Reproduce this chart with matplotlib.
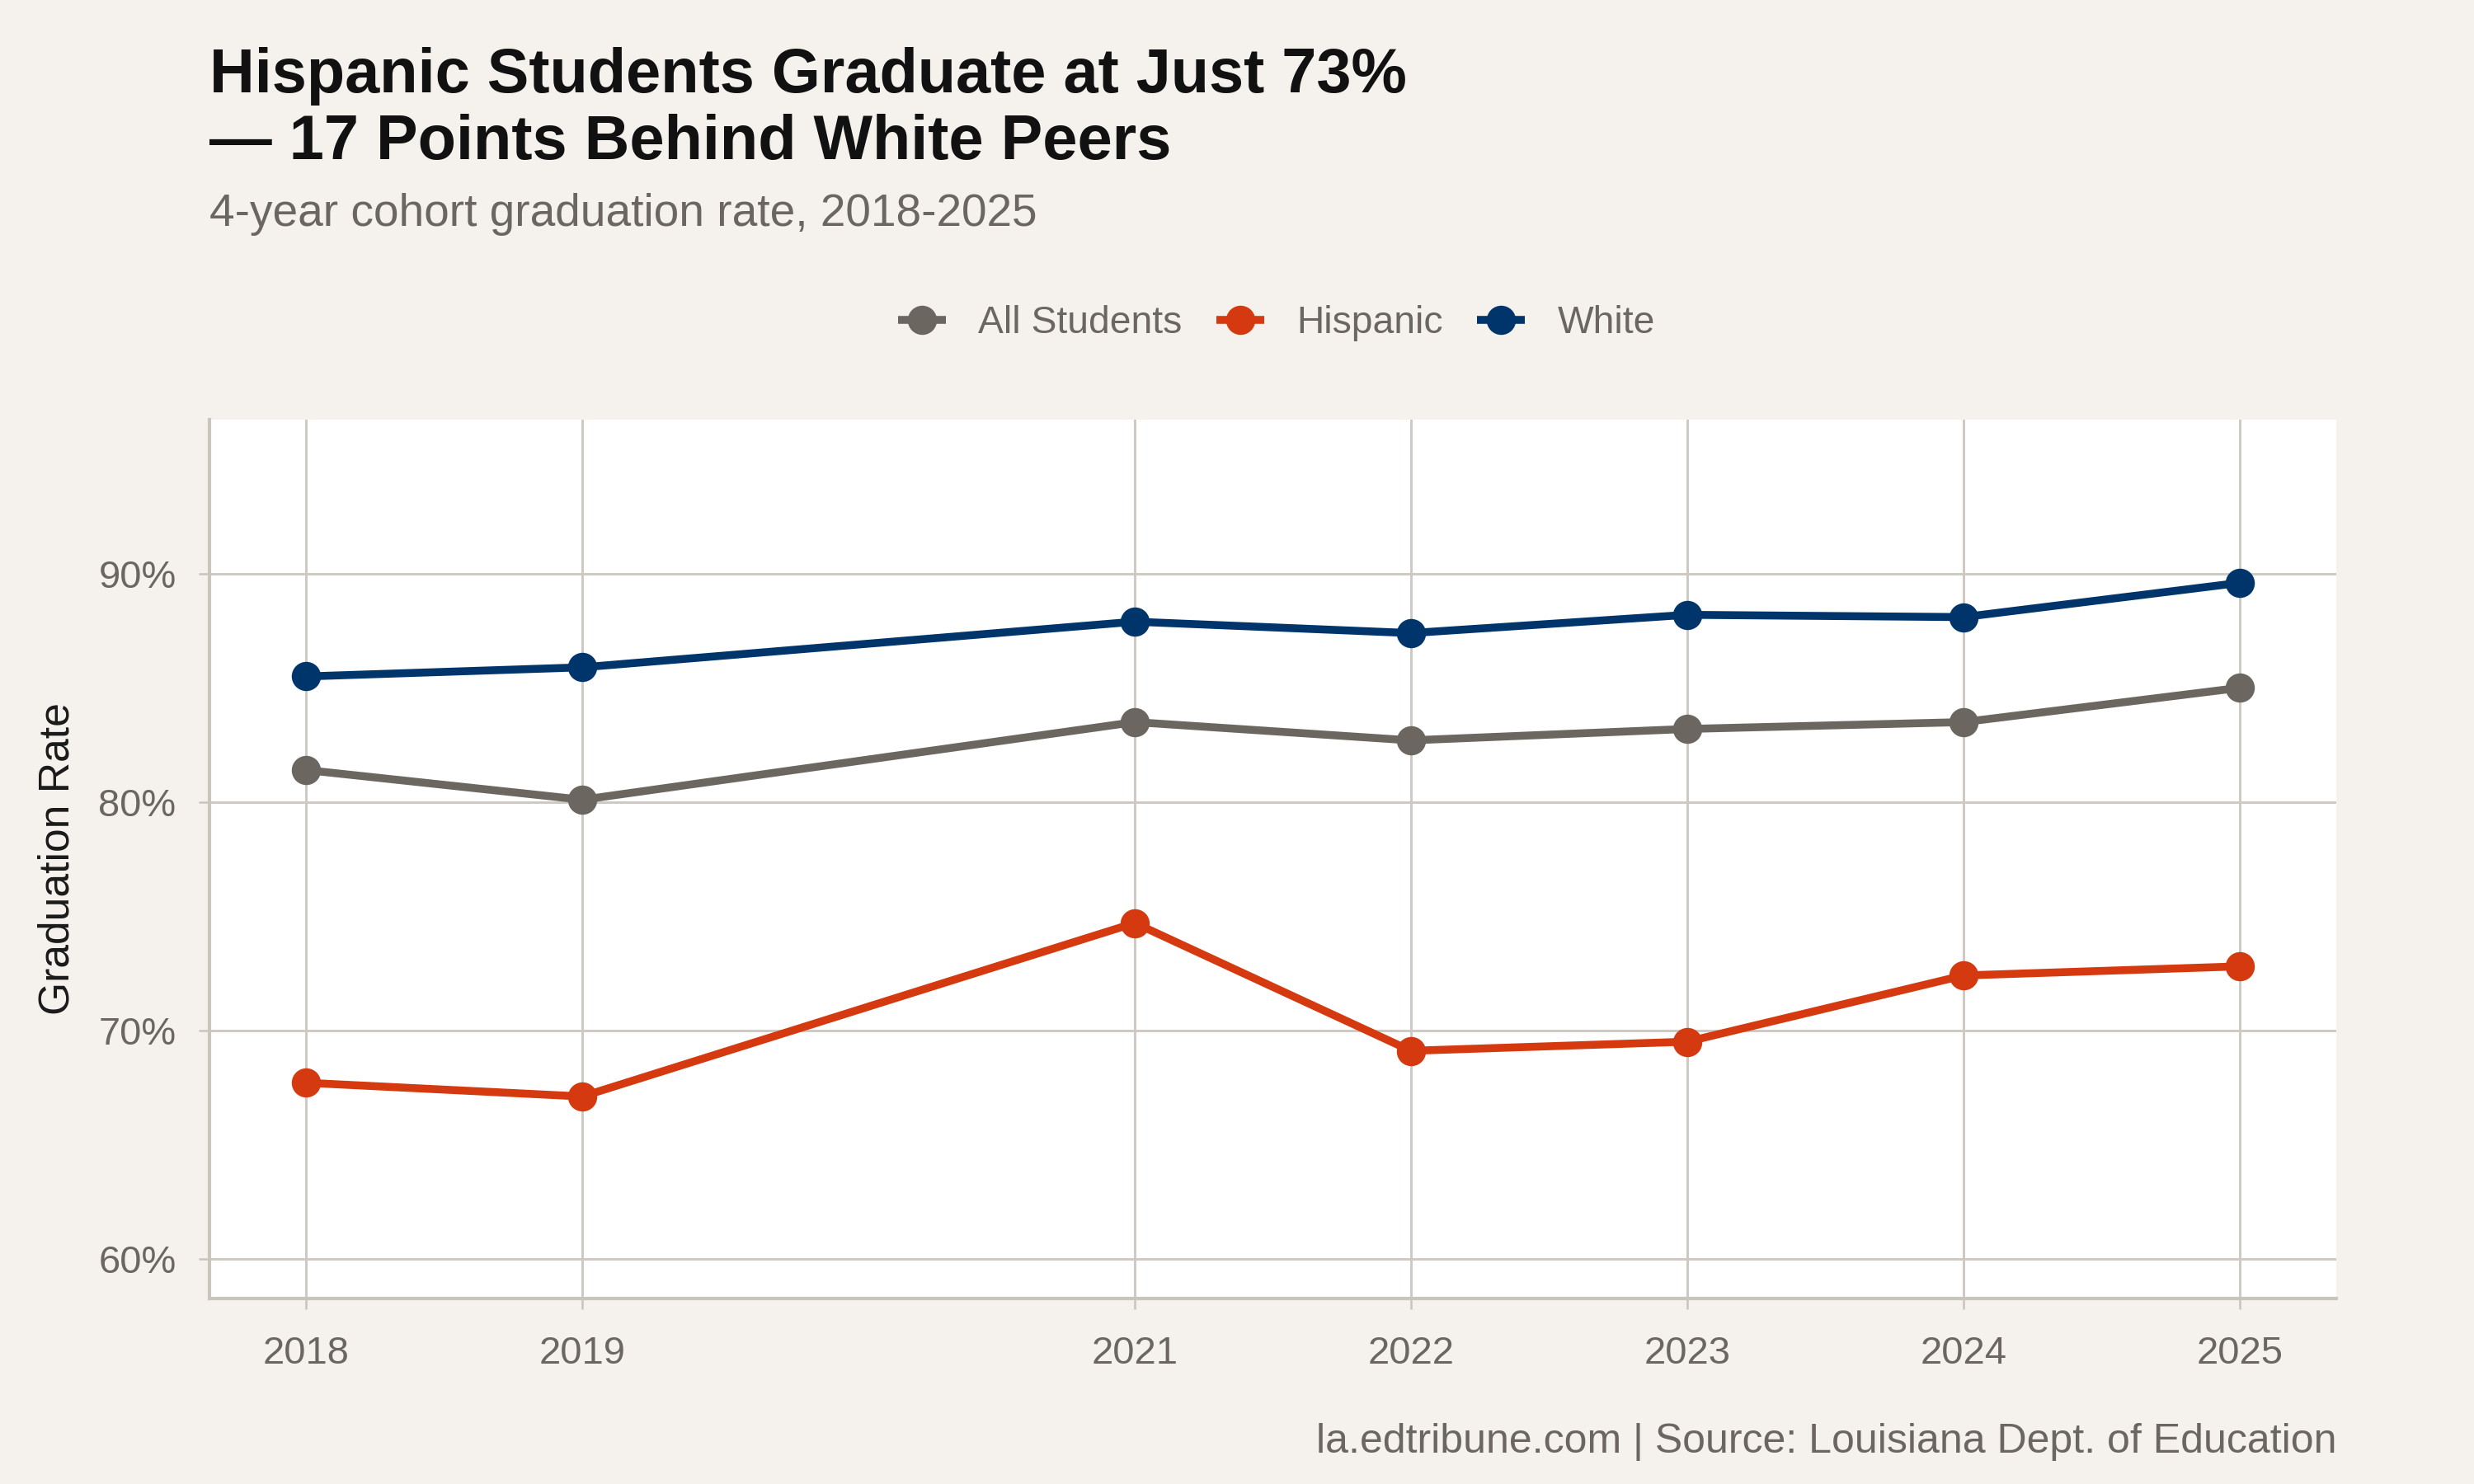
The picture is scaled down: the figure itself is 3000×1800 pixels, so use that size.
import matplotlib
matplotlib.use("Agg")
import matplotlib.pyplot as plt
from matplotlib.ticker import FixedLocator

plt.rcParams['font.family'] = ['Liberation Sans', 'DejaVu Sans']

# ---- data ----
years = [2018, 2019, 2021, 2022, 2023, 2024, 2025]
all_students = [81.4, 80.1, 83.5, 82.7, 83.2, 83.5, 85.0]
hispanic = [67.7, 67.1, 74.7, 69.1, 69.5, 72.4, 72.8]
white = [85.5, 85.9, 87.9, 87.4, 88.2, 88.1, 89.6]
series_names = ["All Students", "Hispanic", "White"]
y_ticks = [60, 70, 80, 90]
y_tick_labels = ["60%", "70%", "80%", "90%"]
x_tick_labels = ["2018", "2019", "2021", "2022", "2023", "2024", "2025"]

title_line1 = "Hispanic Students Graduate at Just 73%"
title_line2 = "— 17 Points Behind White Peers"
subtitle = "4-year cohort graduation rate, 2018-2025"
caption = "la.edtribune.com | Source: Louisiana Dept. of Education"
y_label = "Graduation Rate"

# ---- style ----
bg = "#F5F2ED"
grid_c = "#CDC8C1"
axis_c = "#C9C4BC"
text_grey = "#6B6661"
colors = {"All Students": "#6B6660", "Hispanic": "#D4390F", "White": "#00356B"}

fig = plt.figure(figsize=(10, 6), dpi=300, facecolor=bg)
ax = fig.add_axes([254/3000, 1-1575/1800, (2833-254)/3000, (1575-509)/1800])
ax.set_facecolor("white")

for name, vals in zip(series_names, [all_students, hispanic, white]):
    ax.plot(years, vals, color=colors[name], lw=2.3, marker='o', ms=7.5,
            mec=colors[name], mfc=colors[name], label=name, zorder=3,
            solid_capstyle='butt')

ax.set_xlim(2017.65, 2025.35)
ax.set_ylim(58.25, 96.75)
ax.xaxis.set_major_locator(FixedLocator(years))
ax.set_xticklabels(x_tick_labels)
ax.yaxis.set_major_locator(FixedLocator(y_ticks))
ax.set_yticklabels(y_tick_labels)

ax.grid(True, color=grid_c, lw=0.7, zorder=0)
ax.set_axisbelow(True)
for s in ["top", "right"]:
    ax.spines[s].set_visible(False)
for s in ["left", "bottom"]:
    ax.spines[s].set_color(axis_c)
    ax.spines[s].set_linewidth(1.0)

ax.tick_params(axis='both', colors=axis_c, length=3.2, width=0.6,
               labelcolor=text_grey, labelsize=11.3)
ax.tick_params(axis='x', pad=7.5)
ax.tick_params(axis='y', pad=6.5)

ax.set_ylabel(y_label, fontsize=12.4, color="#1a1a1a", labelpad=6)

# titles
fig.text(254/3000, 1-112/1800, title_line1, fontsize=18.2, fontweight='bold',
         color="#111111", va='baseline', ha='left')
fig.text(254/3000, 1-193/1800, title_line2, fontsize=18.2, fontweight='bold',
         color="#111111", va='baseline', ha='left')
fig.text(254/3000, 1-274/1800, subtitle, fontsize=13.2, color=text_grey,
         va='baseline', ha='left')
fig.text(2833/3000, 1-1762/1800, caption, fontsize=12, color=text_grey,
         va='baseline', ha='right')

leg = fig.legend(*ax.get_legend_handles_labels(), loc='center', ncol=3,
                 bbox_to_anchor=(1548/3000, 1-392/1800), frameon=False,
                 fontsize=11.1, handlelength=1.25, handletextpad=0.85,
                 columnspacing=0.9, numpoints=1)
for t in leg.get_texts():
    t.set_color(text_grey)

fig.savefig("out.png", dpi=300, facecolor=bg)
